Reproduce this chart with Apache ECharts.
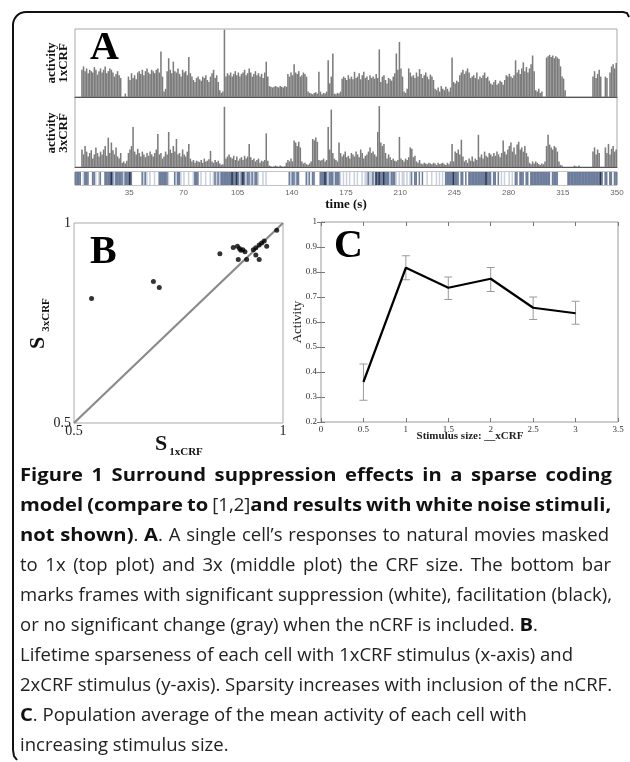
<!DOCTYPE html>
<html>
<head>
<meta charset="utf-8">
<script src="https://cdn.jsdelivr.net/npm/echarts@6/dist/echarts.min.js"></script>
<style>
html, body { margin: 0; padding: 0; background: #fff; }
#main { width: 630px; height: 762px; }
</style>
</head>
<body>
<div id="main"></div>
<script>
// Panel A: activity per second (0..349 s), in % of plot height
var act1x = [
  0,0,0,0,40,45,38,42,35,40, 38,36,44,40,33,38,42,36,40,45,
  35,38,42,40,36,30,34,38,32,28, 0,0,5,0,30,25,35,28,32,26,
  36,38,34,40,32,38,42,36,34,40, 38,35,40,42,36,67,30,8,12,38,
  57,40,35,52,38,36,42,34,30,40, 36,38,32,59,35,30,25,22,28,30,
  26,24,30,28,32,25,22,30,35,40, 28,32,22,10,6,8,99,30,35,32,
  36,30,34,38,32,36,30,34,36,40, 32,35,42,36,30,34,38,32,35,30,
  34,28,36,52,30,16,15,14,15,16, 15,14,16,15,14,16,15,34,30,36,
  32,48,36,34,38,30,32,36,34,30, 8,6,5,4,6,7,5,37,8,4,
  6,5,8,54,20,30,64,5,4,6, 5,8,27,30,28,25,32,27,30,26,
  37,28,30,35,26,32,37,28,30,25, 32,28,30,27,34,28,70,22,30,32,
  25,20,28,26,24,30,35,64,40,81, 42,30,8,6,12,42,36,30,32,28,
  36,30,41,34,28,32,36,30,26,33, 30,25,12,10,14,8,16,12,10,15,
  12,8,14,58,22,20,24,22,32,36, 40,34,38,42,36,28,30,32,28,36,
  26,30,28,32,36,28,30,24,20,18, 22,25,18,20,24,22,18,25,32,30,
  34,30,28,32,54,36,40,34,42,51, 38,44,36,42,48,61,38,10,8,12,
  6,8,0,0,58,60,62,59,61,57, 60,58,56,45,30,27,10,0,0,0,
  0,0,0,0,0,0,0,0,0,0, 0,0,0,0,30,38,28,34,40,30,
  0,0,30,28,0,36,45,48,42,50
];
var act3x = [
  0,0,0,0,25,18,30,22,15,20, 24,12,18,28,20,15,22,18,25,30,
  16,42,20,35,24,18,28,15,12,20, 6,8,5,9,20,25,30,57,22,18,
  26,20,15,22,18,14,20,16,22,18, 15,20,25,47,18,20,12,15,22,18,
  50,25,20,30,22,40,18,20,15,25, 18,15,22,33,12,8,10,6,9,8,
  7,10,6,12,8,9,11,23,8,6, 10,7,9,5,3,4,86,12,15,18,
  14,12,16,10,15,9,12,14,10,16, 12,15,33,14,10,12,8,10,12,6,
  9,8,10,48,9,2,1,0,1,2, 1,0,2,1,0,1,6,10,8,12,
  8,38,35,30,36,28,8,5,6,4, 3,5,8,40,38,42,36,10,9,10,
  12,8,10,57,25,82,20,12,10,8, 35,20,15,18,22,14,16,12,20,18,
  15,22,18,14,25,20,12,16,18,22, 28,20,22,18,15,50,87,35,30,33,
  20,12,18,14,10,12,9,8,10,43, 12,10,8,12,10,14,28,26,14,16,
  8,6,10,5,4,6,5,4,6,5, 4,6,5,3,6,4,5,6,4,3,
  6,4,8,33,8,22,20,25,18,39, 15,8,10,6,12,9,15,8,12,10,
  46,14,18,12,22,16,14,20,18,15, 20,16,22,18,14,20,38,22,18,25,
  30,35,22,28,18,32,36,25,28,22, 30,20,15,6,4,8,5,8,6,4,
  3,5,4,8,30,46,32,28,25,30, 28,22,8,3,2,0,0,0,0,0,
  0,0,2,1,0,2,0,0,0,0, 0,0,0,0,22,28,18,25,20,0,
  0,0,28,20,33,18,26,30,22,25
];
// bottom bar per second: 0 suppression (white), 1 faint, 2 no change (gray), 3 facilitation (black)
var frameCodes = [
  2,2,2,2,0,1,2,2,2,0, 0,2,2,1,0,1,2,0,0,2, 2,2,2,3,2,1,2,2,2,2, 2,1,2,2,2,3,2,0,0,0,
  0,0,0,2,1,2,1,0,1,0, 0,1,0,0,2,2,2,2,2,2, 1,0,0,0,2,1,2,2,1,0, 1,0,0,1,0,0,1,2,2,2,
  0,1,0,0,1,0,0,1,0,1, 2,1,2,1,2,2,2,2,2,2, 2,3,2,2,3,2,1,2,3,2, 1,2,2,1,2,1,2,2,1,0,
  0,1,0,1,0,0,0,0,0,0, 0,0,0,0,0,0,0,0,2,1, 2,2,1,2,2,0,0,0,0,2, 1,2,0,2,2,0,0,0,2,2,
  2,3,2,1,2,2,2,1,2,2, 2,1,0,1,0,1,0,1,0,0, 1,0,1,0,0,1,0,1,1,2, 1,1,2,1,3,2,3,2,2,3,
  2,2,2,1,2,2,2,1,0,1, 0,1,1,0,1,0,1,2,0,2, 2,0,2,0,2,0,0,1,0,0, 1,0,0,1,0,1,0,1,0,2,
  2,2,2,2,3,2,2,2,0,2, 2,0,2,0,2,2,2,2,2,2, 2,2,2,2,2,3,2,2,2,0, 2,2,0,2,0,1,0,1,0,0,
  1,0,1,0,2,2,0,2,2,2, 0,2,2,0,2,2,2,2,2,2, 2,2,2,2,2,2,2,0,2,2, 2,2,0,0,0,0,0,0,2,2,
  2,2,2,2,2,2,2,2,2,2, 2,2,2,2,2,2,2,2,2,3, 2,0,2,2,0,2,2,0,2,2
];
var timeTicks = [35, 70, 105, 140, 175, 210, 245, 280, 315, 350];

// Panel B: lifetime sparseness per cell
var sparse1x = [0.542, 0.690, 0.704, 0.849, 0.881, 0.891, 0.896, 0.899, 0.904, 0.909, 0.893, 0.913,
                0.929, 0.935, 0.943, 0.949, 0.955, 0.961, 0.935, 0.943, 0.985];
var sparse3x = [0.811, 0.854, 0.839, 0.923, 0.939, 0.942, 0.936, 0.932, 0.933, 0.928, 0.909, 0.909,
                0.933, 0.938, 0.945, 0.950, 0.955, 0.942, 0.920, 0.909, 0.982];

// Panel C: mean activity vs stimulus size
var stimSize = [0.5, 1, 1.5, 2, 2.5, 3];
var activityMean = [0.360, 0.817, 0.737, 0.773, 0.657, 0.635];
var activityLow = [0.287, 0.769, 0.690, 0.722, 0.610, 0.591];
var activityHigh = [0.432, 0.865, 0.780, 0.818, 0.700, 0.683];

// caption: segments of [style, text]; b = bold, r = regular
var captionLines = [
  [['b', 'Figure 1 Surround suppression effects in a sparse coding']],
  [['b', 'model (compare to '], ['r', '[1,2]'], ['b', 'and results with white noise stimuli,']],
  [['b', 'not shown)'], ['r', '. '], ['b', 'A'], ['r', '. A single cell\u2019s responses to natural movies masked']],
  [['r', 'to 1x (top plot) and 3x (middle plot) the CRF size. The bottom bar']],
  [['r', 'marks frames with significant suppression (white), facilitation (black),']],
  [['r', 'or no significant change (gray) when the nCRF is included. '], ['b', 'B'], ['r', '.']],
  [['r', 'Lifetime sparseness of each cell with 1xCRF stimulus (x-axis) and']],
  [['r', '2xCRF stimulus (y-axis). Sparsity increases with inclusion of the nCRF.']],
  [['b', 'C'], ['r', '. Population average of the mean activity of each cell with']],
  [['r', 'increasing stimulus size.']]
];
var captionWidths = [592, 580, 589, 591, 592, 0, 0, 592, 0, 0];

var serif = '"Liberation Serif", "DejaVu Serif", serif';
var sans = '"Open Sans", "Noto Sans", sans-serif';
var frameColors = ['#ffffff', '#c9d1df', '#6d7d9c', '#2b3550'];
var boldStretch = 1.09;

var ctx = document.createElement('canvas').getContext('2d');
function capFontStr(style, size) { return (style === 'b' ? 'bold ' : '') + size + 'px ' + sans; }
ctx.font = capFontStr('r', 100);
var capSize = 100 * 592 / ctx.measureText('marks frames with significant suppression (white), facilitation (black),').width;

// split a caption line into words (each word = list of styled pieces)
function captionWords(segs) {
  var words = [[]];
  segs.forEach(function (seg) {
    var parts = seg[1].split(' ');
    parts.forEach(function (p, k) {
      if (k > 0) words.push([]);
      if (p.length) words[words.length - 1].push([seg[0], p]);
    });
  });
  return words.filter(function (w) { return w.length; });
}
function pieceWidth(pc) {
  ctx.font = capFontStr(pc[0], capSize);
  return ctx.measureText(pc[1]).width * (pc[0] === 'b' ? boldStretch : 1);
}

// outer bracket: rounded top-left corner
function arcPts(cx, cy, r, a0, a1) {
  var pts = [];
  for (var k = 0; k <= 8; k++) {
    var a = a0 + (a1 - a0) * k / 8;
    pts.push([cx + r * Math.cos(a), cy + r * Math.sin(a)]);
  }
  return pts;
}
var bracket = [[17, 760], [14, 756], [13, 750]]
  .concat(arcPts(26, 25, 13, Math.PI, Math.PI * 1.5))
  .concat([[623, 12], [627, 13], [629, 17]]);

var chart = echarts.init(document.getElementById('main'), null, { renderer: 'canvas' });

function noAxis(extra) {
  return Object.assign({
    axisLine: { show: false }, axisTick: { show: false },
    axisLabel: { show: false }, splitLine: { show: false }
  }, extra);
}

var graphics = [
  { type: 'polyline', shape: { points: bracket },
    style: { stroke: '#111', lineWidth: 2, fill: null } },
  { type: 'text', x: 90, y: 49, style: { text: 'A', font: 'bold 40px ' + serif, fill: '#000', verticalAlign: 'middle' }, z: 10 },
  { type: 'text', x: 90, y: 253, style: { text: 'B', font: 'bold 40px ' + serif, fill: '#000', verticalAlign: 'middle' }, z: 10 },
  { type: 'text', x: 334, y: 247, style: { text: 'C', font: 'bold 40px ' + serif, fill: '#000', verticalAlign: 'middle' }, z: 10 },
  { type: 'text', x: 58, y: 63, rotation: Math.PI / 2,
    style: { text: 'activity\n1xCRF', font: 'bold 13px ' + serif, lineHeight: 12, align: 'center', verticalAlign: 'middle', fill: '#111' } },
  { type: 'text', x: 58, y: 133, rotation: Math.PI / 2,
    style: { text: 'activity\n3xCRF', font: 'bold 13px ' + serif, lineHeight: 12, align: 'center', verticalAlign: 'middle', fill: '#111' } },
  { type: 'text', x: 346, y: 205, style: { text: 'time (s)', font: 'bold 13px ' + serif, align: 'center', verticalAlign: 'middle', fill: '#111' } },
  // S3xCRF (rotated)
  { type: 'text', x: 38, y: 343, rotation: Math.PI / 2,
    style: { text: 'S', font: 'bold 22px ' + serif, align: 'center', verticalAlign: 'middle', fill: '#111' } },
  { type: 'text', x: 46, y: 315, rotation: Math.PI / 2,
    style: { text: '3xCRF', font: 'bold 11px ' + serif, align: 'center', verticalAlign: 'middle', fill: '#111' } },
  // S1xCRF
  { type: 'text', x: 161, y: 444, style: { text: 'S', font: 'bold 22px ' + serif, align: 'center', verticalAlign: 'middle', fill: '#111' } },
  { type: 'text', x: 186, y: 452, style: { text: '1xCRF', font: 'bold 11px ' + serif, align: 'center', verticalAlign: 'middle', fill: '#111' } },
  // panel C axis names
  { type: 'text', x: 298, y: 322, rotation: Math.PI / 2,
    style: { text: 'Activity', font: '13px ' + serif, align: 'center', verticalAlign: 'middle', fill: '#222' } },
  { type: 'text', x: 470, y: 436, style: { text: 'Stimulus size: __xCRF', font: 'bold 11px ' + serif, align: 'center', verticalAlign: 'middle', fill: '#222' } }
];

captionLines.forEach(function (segs, i) {
  var y = 476 + i * 30;
  var words = captionWords(segs);
  var widths = words.map(function (w) {
    return w.reduce(function (s, pc) { return s + pieceWidth(pc); }, 0);
  });
  ctx.font = capFontStr('r', capSize);
  var space = ctx.measureText(' ').width;
  var gap = space;
  if (captionWidths[i] && words.length > 1) {
    var total = widths.reduce(function (a, b) { return a + b; }, 0);
    gap = Math.max(space * 0.85, (captionWidths[i] - total) / (words.length - 1));
  }
  var x = 20;
  words.forEach(function (w, k) {
    var px = x;
    w.forEach(function (pc) {
      var bold = pc[0] === 'b';
      graphics.push({
        type: 'text', x: px, y: y, scaleX: bold ? boldStretch : 1,
        style: { text: pc[1], font: capFontStr(pc[0], capSize), fill: bold ? '#111' : '#222', verticalAlign: 'middle' }
      });
      px += pieceWidth(pc);
    });
    x += widths[k] + gap;
  });
});

var option = {
  animation: false,
  backgroundColor: '#fff',
  grid: [
    { left: 75, top: 29, width: 542, height: 68, show: true, borderColor: '#a8a8a8', borderWidth: 1 },
    { left: 75, top: 97, width: 542, height: 70, show: true, borderColor: '#a8a8a8', borderWidth: 1 },
    { left: 75, top: 172, width: 542, height: 13, show: true, borderColor: '#8a8a8a', borderWidth: 1 },
    { left: 74, top: 223, width: 209, height: 200, show: true, borderColor: '#aaaaaa', borderWidth: 1 },
    { left: 321, top: 222, width: 297, height: 200, show: true, borderColor: '#9a9a9a', borderWidth: 1 }
  ],
  xAxis: [
    noAxis({ type: 'value', gridIndex: 0, min: 0, max: 350, axisLine: { show: true, onZero: false, lineStyle: { color: '#555' } } }),
    noAxis({ type: 'value', gridIndex: 1, min: 0, max: 350, axisLine: { show: true, onZero: false, lineStyle: { color: '#555' } } }),
    noAxis({ type: 'value', gridIndex: 2, min: 0, max: 350, interval: 35,
      axisLabel: { show: true, fontSize: 8, color: '#666', fontFamily: '"Liberation Sans", sans-serif', margin: 4,
        formatter: function (v) { return timeTicks.indexOf(v) >= 0 ? String(v) : ''; } } }),
    noAxis({ type: 'value', gridIndex: 3, min: 0.5, max: 1, interval: 0.5,
      axisLabel: { show: true, fontSize: 14, color: '#222', fontFamily: serif, margin: 1,
        formatter: function (v) { return v === 1 ? '1' : '0.5'; } } }),
    { type: 'value', gridIndex: 4, min: 0, max: 3.5, interval: 0.5, position: 'bottom',
      axisLine: { show: false }, splitLine: { show: false },
      axisTick: { show: true, inside: true, length: 4, lineStyle: { color: '#777' } },
      axisLabel: { show: true, fontSize: 9, color: '#333', fontFamily: serif, margin: 3 } },
    { type: 'value', gridIndex: 4, min: 0, max: 3.5, interval: 0.5, position: 'top',
      axisLine: { show: false }, splitLine: { show: false }, axisLabel: { show: false },
      axisTick: { show: true, inside: true, length: 4, lineStyle: { color: '#777' } } }
  ],
  yAxis: [
    noAxis({ type: 'value', gridIndex: 0, min: 0, max: 100 }),
    noAxis({ type: 'value', gridIndex: 1, min: 0, max: 100 }),
    noAxis({ type: 'value', gridIndex: 2, min: 0, max: 1 }),
    noAxis({ type: 'value', gridIndex: 3, min: 0.5, max: 1, interval: 0.5,
      axisLabel: { show: true, fontSize: 14, color: '#222', fontFamily: serif, margin: 3,
        formatter: function (v) { return v === 1 ? '1' : '0.5'; } } }),
    { type: 'value', gridIndex: 4, min: 0.2, max: 1, interval: 0.1, position: 'left',
      axisLine: { show: false }, splitLine: { show: false },
      axisTick: { show: true, inside: true, length: 4, lineStyle: { color: '#777' } },
      axisLabel: { show: true, fontSize: 9, color: '#333', fontFamily: serif, margin: 4 } },
    { type: 'value', gridIndex: 4, min: 0.2, max: 1, interval: 0.1, position: 'right',
      axisLine: { show: false }, splitLine: { show: false }, axisLabel: { show: false },
      axisTick: { show: true, inside: true, length: 4, lineStyle: { color: '#777' } } }
  ],
  series: [
    { type: 'bar', xAxisIndex: 0, yAxisIndex: 0, barWidth: '100%', silent: true,
      itemStyle: { color: '#7c7c7c' },
      data: act1x.map(function (v, i) { return [i + 0.5, v]; }) },
    { type: 'bar', xAxisIndex: 1, yAxisIndex: 1, barWidth: '100%', silent: true,
      itemStyle: { color: '#7c7c7c' },
      data: act3x.map(function (v, i) { return [i + 0.5, v]; }) },
    { type: 'bar', xAxisIndex: 2, yAxisIndex: 2, barWidth: '125%', silent: true,
      data: frameCodes.map(function (c, i) { return { value: [i + 0.5, 1], itemStyle: { color: frameColors[c] } }; }) },
    { type: 'line', xAxisIndex: 3, yAxisIndex: 3, symbol: 'none', silent: true,
      lineStyle: { color: '#8a8a8a', width: 2.2 }, data: [[0.5, 0.5], [1, 1]], z: 2 },
    { type: 'scatter', xAxisIndex: 3, yAxisIndex: 3, symbolSize: 5, silent: true,
      itemStyle: { color: '#000' },
      data: sparse1x.map(function (v, i) { return [v, sparse3x[i]]; }), z: 3 },
    { type: 'custom', xAxisIndex: 4, yAxisIndex: 4, silent: true,
      data: stimSize.map(function (s, i) { return [s, activityLow[i], activityHigh[i]]; }),
      encode: { x: 0, y: [1, 2] },
      renderItem: function (params, api) {
        var x = api.value(0);
        var lo = api.coord([x, api.value(1)]);
        var hi = api.coord([x, api.value(2)]);
        var cap = 4;
        var st = { stroke: '#9a9a9a', lineWidth: 1 };
        return { type: 'group', children: [
          { type: 'line', shape: { x1: lo[0], y1: lo[1], x2: hi[0], y2: hi[1] }, style: st },
          { type: 'line', shape: { x1: lo[0] - cap, y1: lo[1], x2: lo[0] + cap, y2: lo[1] }, style: st },
          { type: 'line', shape: { x1: hi[0] - cap, y1: hi[1], x2: hi[0] + cap, y2: hi[1] }, style: st }
        ] };
      } },
    { type: 'line', xAxisIndex: 4, yAxisIndex: 4, symbol: 'none', silent: true,
      lineStyle: { color: '#000', width: 2.2 },
      data: stimSize.map(function (s, i) { return [s, activityMean[i]]; }) }
  ],
  graphic: graphics
};

chart.setOption(option);
</script>
</body>
</html>
